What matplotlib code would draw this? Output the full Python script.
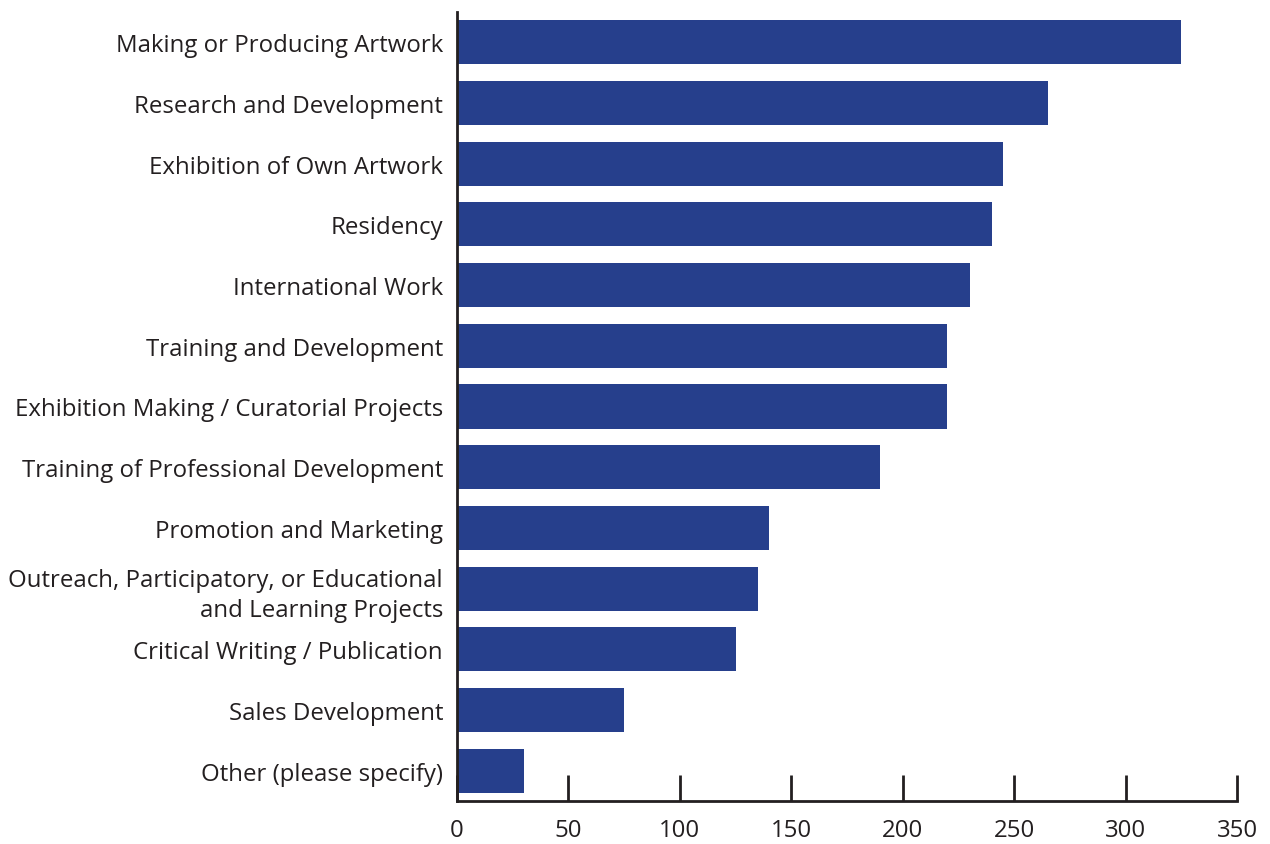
import matplotlib
matplotlib.use("Agg")
import matplotlib.pyplot as plt
import matplotlib.transforms as mtransforms

categories = [
    "Making or Producing Artwork",
    "Research and Development",
    "Exhibition of Own Artwork",
    "Residency",
    "International Work",
    "Training and Development",
    "Exhibition Making / Curatorial Projects",
    "Training of Professional Development",
    "Promotion and Marketing",
    "Outreach, Participatory, or Educational\nand Learning Projects",
    "Critical Writing / Publication",
    "Sales Development",
    "Other (please specify)",
]
values = [325, 265, 245, 240, 230, 220, 220, 190, 140, 135, 125, 75, 30]
xticks = [0, 50, 100, 150, 200, 250, 300, 350]

plt.rcParams['font.family'] = ['Open Sans', 'DejaVu Sans']

fig = plt.figure(figsize=(12.7, 8.45), dpi=100)
ax = fig.add_axes([457/1270, 43/845, (1237-457)/1270, (802-13)/845])

y = list(range(len(categories)))
ax.barh(y, values, height=0.725, color="#263F8C")
ax.set_ylim(len(categories) - 0.5, -0.5)
ax.set_xlim(0, 350)
ax.set_yticks(y)
ax.set_yticklabels(categories, fontsize=17.3, color="#231F20", linespacing=1.35, ha="right")
offset = mtransforms.ScaledTranslation(0, -3 / 100, fig.dpi_scale_trans)
for lbl in ax.get_yticklabels():
    lbl.set_transform(lbl.get_transform() + offset)
ax.set_xticks(xticks)
ax.set_xticklabels([str(t) for t in xticks], fontsize=17.3, color="#231F20")
ax.tick_params(axis="y", length=0, pad=10)
ax.tick_params(axis="x", direction="in", length=19, width=2, color="#231F20", pad=12)
for s in ["top", "right"]:
    ax.spines[s].set_visible(False)
for s in ["left", "bottom"]:
    ax.spines[s].set_linewidth(2)
    ax.spines[s].set_color("#231F20")

fig.savefig("out.png", dpi=100)
